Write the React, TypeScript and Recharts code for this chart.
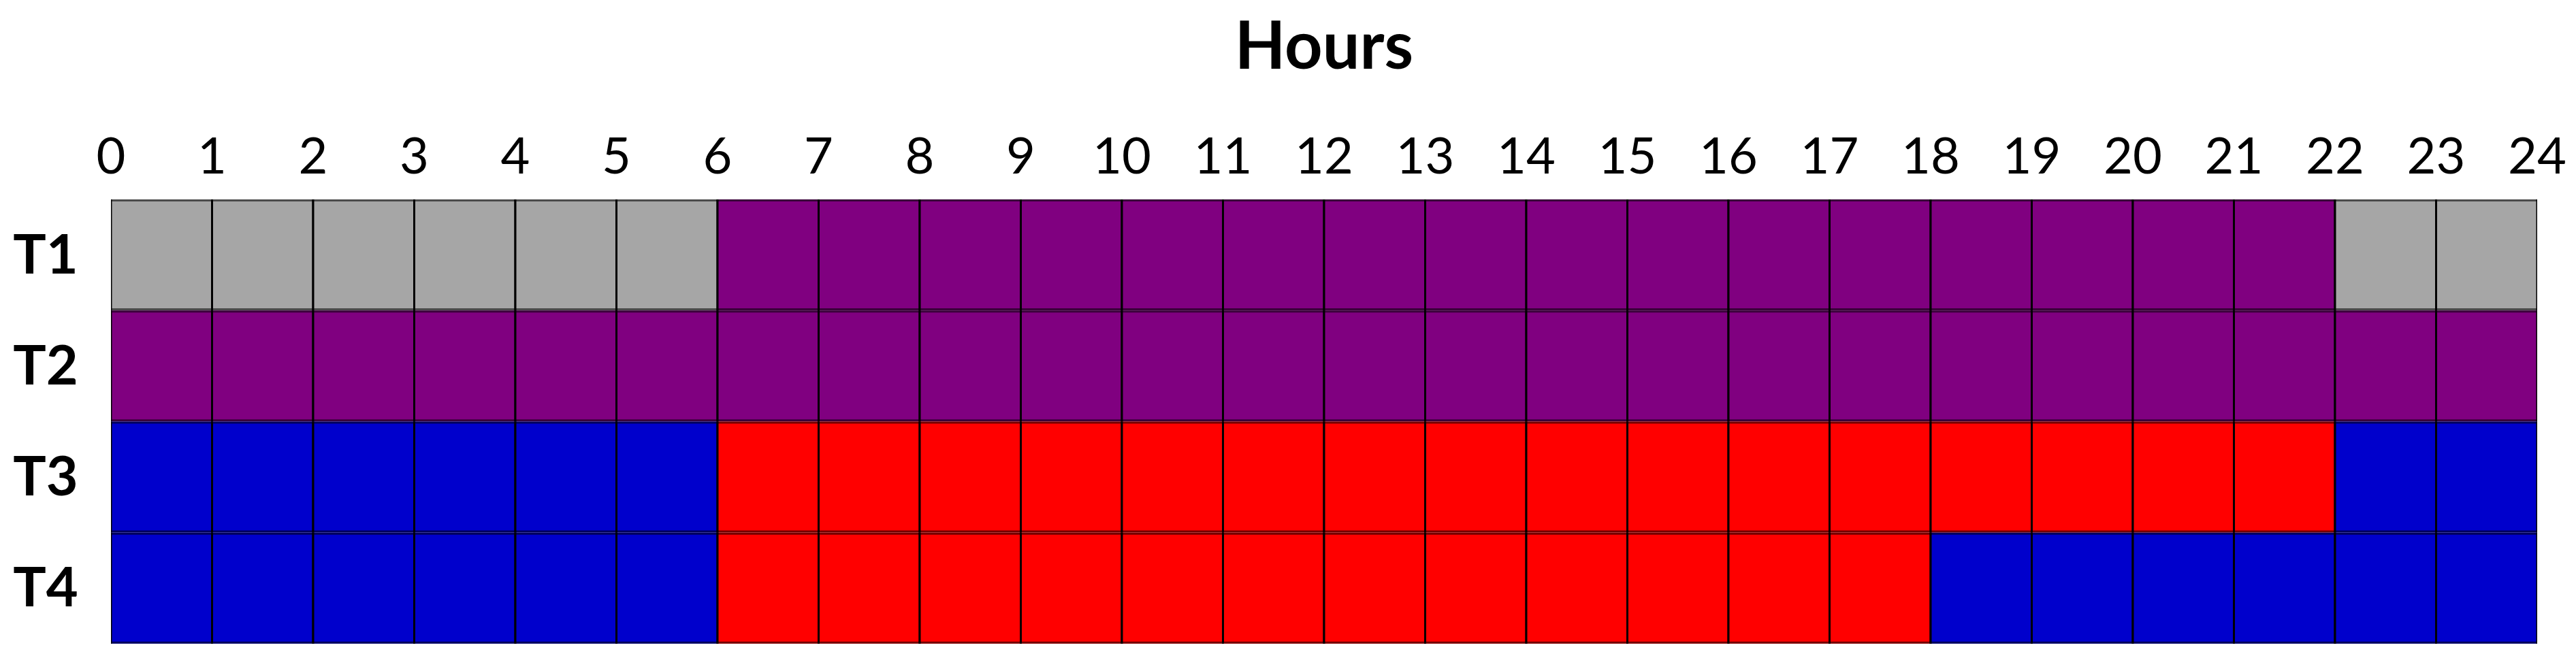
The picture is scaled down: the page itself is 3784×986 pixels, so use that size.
import React from 'react';
import { BarChart, Bar, XAxis, YAxis, Cell } from 'recharts';

// Tick labels of the hour axis (top)
const hourTicks = [0, 1, 2, 3, 4, 5, 6, 7, 8, 9, 10, 11, 12, 13, 14, 15, 16, 17, 18, 19, 20, 21, 22, 23, 24];

// Row categories
const rowNames = ['T1', 'T2', 'T3', 'T4'];

// Hourly state of each row, hours 0..23
const t1States = ['G', 'G', 'G', 'G', 'G', 'G', 'P', 'P', 'P', 'P', 'P', 'P', 'P', 'P', 'P', 'P', 'P', 'P', 'P', 'P', 'P', 'P', 'G', 'G'];
const t2States = ['P', 'P', 'P', 'P', 'P', 'P', 'P', 'P', 'P', 'P', 'P', 'P', 'P', 'P', 'P', 'P', 'P', 'P', 'P', 'P', 'P', 'P', 'P', 'P'];
const t3States = ['B', 'B', 'B', 'B', 'B', 'B', 'R', 'R', 'R', 'R', 'R', 'R', 'R', 'R', 'R', 'R', 'R', 'R', 'R', 'R', 'R', 'R', 'B', 'B'];
const t4States = ['B', 'B', 'B', 'B', 'B', 'B', 'R', 'R', 'R', 'R', 'R', 'R', 'R', 'R', 'R', 'R', 'R', 'R', 'B', 'B', 'B', 'B', 'B', 'B'];

// Duration of each slot (hours)
const slotHours = [1, 1, 1, 1, 1, 1, 1, 1, 1, 1, 1, 1, 1, 1, 1, 1, 1, 1, 1, 1, 1, 1, 1, 1];

const stateColors: Record<string, string> = {
  G: '#A6A6A6',
  P: '#800080',
  B: '#0000CC',
  R: '#FF0000',
};

const allStates = [t1States, t2States, t3States, t4States];

const data = rowNames.map((name) => {
  const row: Record<string, any> = { name };
  slotHours.forEach((d, i) => {
    row[`h${i}`] = d;
  });
  return row;
});

const FONT = 'Lato, "Open Sans", sans-serif';

const RowTick = (props: any) => {
  const { y, payload } = props;
  return (
    <text
      x={67}
      y={y + 27}
      textAnchor="middle"
      fontFamily={FONT}
      fontWeight={700}
      fontSize={81}
      fill="#000"
    >
      {payload.value}
    </text>
  );
};

const CellShape = (props: any) => {
  const { x, y, width, height, fill } = props;
  if (width == null || height == null) return null;
  const hb = 3;
  return (
    <g>
      <rect x={x} y={y} width={width} height={height} fill={fill} />
      <rect x={x} y={y} width={width} height={hb} fill="#000" fillOpacity={0.55} />
      <rect x={x} y={y + height - hb} width={width} height={hb} fill="#000" fillOpacity={0.55} />
      <line x1={x} y1={y} x2={x} y2={y + height} stroke="#000" strokeWidth={3} />
      <line x1={x + width} y1={y} x2={x + width} y2={y + height} stroke="#000" strokeWidth={3} />
    </g>
  );
};

export default function App() {
  return (
    <div style={{ position: 'absolute', left: 0, top: 0, background: '#fff' }}>
      <BarChart
        width={3784}
        height={986}
        data={data}
        layout="vertical"
        barCategoryGap={0}
        barGap={0}
        margin={{ top: 0, right: 57, bottom: 40, left: 0 }}
      >
        <XAxis
          type="number"
          orientation="top"
          domain={[0, 24]}
          ticks={hourTicks}
          interval={0}
          allowDataOverflow
          height={293}
          axisLine={false}
          tickLine={false}
          tickSize={0}
          tickMargin={38}
          tick={{ fontFamily: FONT, fontSize: 74, fill: '#000' }}
          label={{
            value: 'Hours',
            position: 'insideTop',
            offset: 32,
            style: { fontFamily: FONT, fontWeight: 700, fontSize: 97, fill: '#000' },
          }}
        />
        <YAxis
          type="category"
          dataKey="name"
          width={163}
          axisLine={false}
          tickLine={false}
          tick={<RowTick />}
        />
        {slotHours.map((_, i) => (
          <Bar
            key={i}
            dataKey={`h${i}`}
            stackId="day"
            isAnimationActive={false}
            shape={<CellShape />}
          >
            {rowNames.map((n, r) => (
              <Cell key={n} fill={stateColors[allStates[r][i]]} />
            ))}
          </Bar>
        ))}
      </BarChart>
    </div>
  );
}
